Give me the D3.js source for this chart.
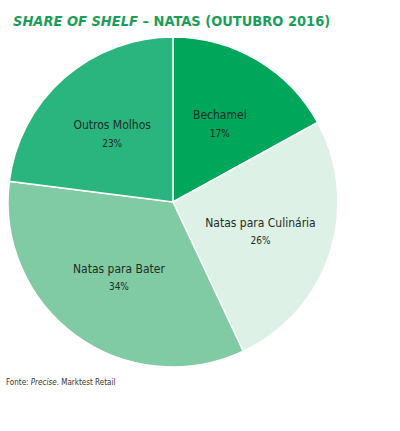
<!DOCTYPE html>
<html>
<head>
<meta charset="utf-8">
<script src="https://cdn.jsdelivr.net/npm/d3@7/dist/d3.min.js"></script>
<style>
  body { margin: 0; background: #fff; }
  svg { display: block; }
</style>
</head>
<body>
<script>
// share of shelf, natas, outubro 2016
var categories = ["Bechamel", "Natas para Culinária", "Natas para Bater", "Outros Molhos"];
var values = [17, 26, 34, 23];
var colors = ["#00a65a", "#ddf1e6", "#80cba3", "#2bb57e"];

var width = 400, height = 431;
var cx = 173, cy = 202, radius = 165;
var font = "'DejaVu Sans Condensed', 'Liberation Sans Narrow', sans-serif";

var svg = d3.select("body")
  .append("svg")
    .attr("width", width)
    .attr("height", height);

// title
var title = svg.append("text")
  .attr("x", 13)
  .attr("y", 26)
  .style("font-family", font)
  .style("font-size", "14.5px")
  .style("font-weight", "bold")
  .attr("fill", "#1a9e5a");
title.append("tspan").style("font-style", "italic").text("SHARE OF SHELF");
title.append("tspan").text(" – NATAS (OUTUBRO 2016)");

var pie = d3.pie().sort(null).value(function(d) { return d; });
var arcs = pie(values);

var arc = d3.arc().innerRadius(0).outerRadius(radius);
var labelArc = d3.arc().innerRadius(92).outerRadius(92);

var g = svg.append("g")
  .attr("transform", "translate(" + cx + "," + cy + ")");

g.selectAll(".slice")
  .data(arcs)
  .enter()
  .append("path")
    .attr("class", "slice")
    .attr("d", arc)
    .attr("fill", function(d, i) { return colors[i]; })
    .attr("stroke", "#fff")
    .attr("stroke-width", 1.5);

var lab = g.selectAll(".lab")
  .data(arcs)
  .enter()
  .append("text")
    .attr("class", "lab")
    .attr("transform", function(d) { return "translate(" + labelArc.centroid(d) + ")"; })
    .style("text-anchor", "middle")
    .style("font-family", font)
    .attr("fill", "#1f2b27");

lab.append("tspan")
  .attr("x", 0)
  .attr("dy", "-0.3em")
  .style("font-size", "12px")
  .text(function(d, i) { return categories[i]; });

lab.append("tspan")
  .attr("x", 0)
  .attr("dy", "1.75em")
  .style("font-size", "10px")
  .text(function(d) { return d.data + "%"; });

// source note
var note = svg.append("text")
  .attr("x", 6)
  .attr("y", 385)
  .style("font-family", font)
  .style("font-size", "8px")
  .attr("fill", "#333");
note.append("tspan").text("Fonte: ");
note.append("tspan").style("font-style", "italic").text("Precise");
note.append("tspan").text(". Marktest Retail");
</script>
</body>
</html>
